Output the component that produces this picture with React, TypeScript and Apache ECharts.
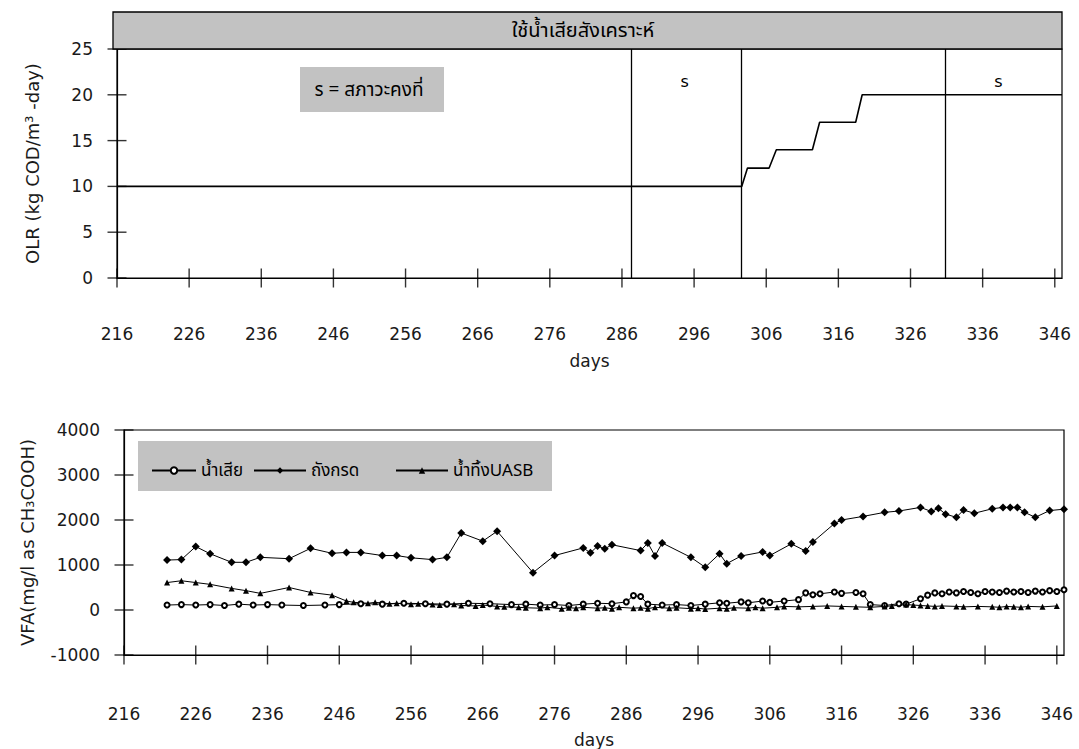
import React, { useEffect, useRef } from 'react';
import * as echarts from 'echarts';

// ---------- data ----------
const xTicks = [216, 226, 236, 246, 256, 266, 276, 286, 296, 306, 316, 326, 336, 346];
const olrTicks = [0, 5, 10, 15, 20, 25];
const vfaTicks = [-1000, 0, 1000, 2000, 3000, 4000];

// OLR (kg COD/m3-day) step profile
const olrDays = [216, 302.6, 303.4, 306.4, 307.4, 312.4, 313.4, 318.4, 319.3, 347];
const olrValues = [10, 10, 12, 12, 14, 14, 17, 17, 20, 20];
const phaseBoundaries = [287.3, 302.6, 330.8];
const steadyLabelDays = [294.7, 338.2];
const steadyLabelLevel = 21.4;

// VFA (mg/l as CH3COOH)
const acidDays = [222, 224, 226, 228, 231, 233, 235, 239, 242, 245, 247, 249, 252, 254, 256, 259, 261, 263, 266, 268,
  273, 276, 280, 281, 282, 283, 284, 288, 289, 290, 291, 295, 297, 299, 300, 302, 305, 306, 309, 311,
  312, 315, 316, 319, 322, 324, 327, 328.5, 329.5, 330.5, 332, 333, 334.5, 337, 338.5, 339.5, 340.5, 341.5, 343, 345, 347];
const acidValues = [1110, 1120, 1410, 1250, 1060, 1060, 1170, 1140, 1370, 1260, 1280, 1280, 1210, 1210, 1160, 1120, 1170, 1710, 1530, 1750,
  830, 1210, 1380, 1270, 1420, 1360, 1450, 1320, 1490, 1200, 1490, 1170, 950, 1250, 1030, 1200, 1290, 1210, 1470, 1310,
  1510, 1920, 2000, 2080, 2170, 2200, 2280, 2190, 2260, 2130, 2060, 2220, 2150, 2250, 2280, 2280, 2280, 2170, 2060, 2210, 2240];

const uasbDays = [222, 224, 226, 228, 231, 233, 235, 239, 242, 245, 247, 248, 250, 251, 253, 254, 256, 257, 259, 260,
  262, 263, 265, 266, 268, 269, 271, 272, 274, 275, 277, 278, 279, 280, 282, 283, 284, 285, 287, 288,
  289, 290, 292, 293, 295, 296, 297, 299, 300, 301, 303, 304, 305, 307, 308, 310, 312, 314, 316, 318,
  320, 322, 323, 325, 326, 327, 328, 329, 330, 332, 333, 335, 337, 338, 339, 340, 341, 342, 344, 346];
const uasbValues = [610, 650, 610, 570, 480, 430, 370, 500, 390, 330, 200, 170, 150, 170, 140, 150, 130, 140, 120, 110,
  130, 100, 90, 110, 80, 70, 60, 50, 40, 60, 30, 50, 40, 60, 40, 50, 30, 60, 40, 50,
  30, 60, 40, 50, 30, 40, 20, 40, 30, 50, 40, 60, 40, 60, 80, 70, 80, 90, 80, 70,
  60, 80, 90, 120, 110, 100, 90, 80, 90, 80, 70, 80, 70, 60, 80, 70, 60, 80, 70, 90];

const influentDays = [222, 224, 226, 228, 230, 232, 234, 236, 238, 241, 244, 246, 249, 252, 255, 258, 261, 264, 267, 270,
  272, 274, 276, 278, 280, 282, 284, 286, 287, 288, 289, 291, 293, 295, 297, 299, 300, 302, 303, 305,
  306, 308, 310, 311, 312, 313, 315, 316, 318, 319, 320, 322, 324, 325, 327, 328, 329, 330, 331, 332,
  333, 334, 335, 336, 337, 338, 339, 340, 341, 342, 343, 344, 345, 346, 347];
const influentValues = [110, 120, 110, 120, 100, 130, 110, 120, 110, 100, 110, 120, 140, 130, 150, 140, 130, 150, 140, 120,
  130, 110, 120, 100, 130, 150, 140, 180, 320, 300, 130, 110, 120, 100, 130, 160, 150, 180, 160, 200,
  170, 200, 230, 380, 340, 360, 400, 370, 390, 360, 120, 100, 140, 130, 250, 330, 380, 360, 400, 380,
  410, 390, 360, 410, 400, 390, 420, 400, 410, 390, 420, 400, 430, 410, 450];

const seriesNames = ['น้ำเสีย', 'ถังกรด', 'น้ำทิ้งUASB'];

// ---------- styles ----------
const NUM_FONT = '"DejaVu Sans", Verdana, sans-serif';
const THAI_FONT = '"Noto Sans Thai", Loma, Garuda, "Tlwg Typo", Kinnari, "DejaVu Sans", sans-serif';
const GRAY = '#c2c2c2';
const BLACK = '#000';
const TEXT = '#1a1a1a';
const X_MIN = 216;
const X_MAX = 347;

const zip = (xs: number[], ys: number[]) => xs.map((x, i) => [x, ys[i]]);

function xAxis(gridIndex: number, labelMargin: number, nameGap: number) {
  return {
    gridIndex, type: 'value', min: X_MIN, max: X_MAX, position: 'bottom',
    axisLine: { show: true, onZero: false, lineStyle: { color: BLACK, width: 1.2 } },
    axisTick: { show: false },
    axisLabel: { customValues: xTicks, margin: labelMargin, color: TEXT, fontSize: 17, fontFamily: NUM_FONT },
    splitLine: { show: false },
    name: 'days', nameLocation: 'middle', nameGap,
    nameTextStyle: { color: TEXT, fontSize: 17, fontFamily: NUM_FONT },
  };
}

function yAxis(gridIndex: number, ticks: number[], name: string, nameGap: number) {
  return {
    gridIndex, type: 'value', min: ticks[0], max: ticks[ticks.length - 1], position: 'left',
    axisLine: { show: true, onZero: false, lineStyle: { color: BLACK, width: 1.2 } },
    axisTick: { show: false },
    axisLabel: { customValues: ticks, formatter: (v: number) => String(v), margin: 24, color: TEXT, fontSize: 17, fontFamily: NUM_FONT },
    splitLine: { show: false },
    name, nameLocation: 'middle', nameGap, nameRotate: 90,
    nameTextStyle: { color: TEXT, fontSize: 18, fontFamily: NUM_FONT },
  };
}

// crossing tick marks drawn as thin rect symbols through the axis scales
function xTickSeries(axisIndex: number, yBase: number) {
  return {
    type: 'scatter', xAxisIndex: axisIndex, yAxisIndex: axisIndex, silent: true, clip: false, z: 5,
    symbol: 'rect', symbolSize: [1.4, 19], itemStyle: { color: BLACK },
    data: xTicks.map((t) => [t, yBase]),
  };
}
function yTickSeries(axisIndex: number, ticks: number[]) {
  return {
    type: 'scatter', xAxisIndex: axisIndex, yAxisIndex: axisIndex, silent: true, clip: false, z: 5,
    symbol: 'rect', symbolSize: [19, 1.4], itemStyle: { color: BLACK },
    data: ticks.map((t) => [X_MIN, t]),
  };
}

const legendBase = {
  show: true,
  selectedMode: false,
  top: 457,
  itemHeight: 8,
  z: 6,
  textStyle: { color: BLACK, fontSize: 17, fontFamily: THAI_FONT },
};

const option: any = {
  animation: false,
  backgroundColor: '#fff',
  grid: [
    { left: 117, top: 49, width: 945, height: 229, show: true, borderColor: BLACK, borderWidth: 1.2, backgroundColor: 'transparent' },
    { left: 124, top: 430, width: 940, height: 227, show: true, borderColor: BLACK, borderWidth: 1.2, backgroundColor: 'transparent' },
  ],
  xAxis: [xAxis(0, 47, 74), xAxis(1, 50, 76)],
  yAxis: [
    yAxis(0, olrTicks, 'OLR (kg COD/m³ -day)', 76),
    yAxis(1, vfaTicks, 'VFA(mg/l as CH₃COOH)', 88),
  ],
  legend: [
    { ...legendBase, left: 146, itemWidth: 44, data: [seriesNames[0]] },
    { ...legendBase, left: 248, itemWidth: 52, data: [seriesNames[1]] },
    { ...legendBase, left: 390, itemWidth: 52, data: [seriesNames[2]] },
  ],
  graphic: [
    { type: 'rect', z: 10, shape: { x: 113, y: 12, width: 949, height: 37 }, style: { fill: GRAY, stroke: BLACK, lineWidth: 1.3 } },
    { type: 'text', z: 11, x: 583, y: 31, style: { text: 'ใช้น้ำเสียสังเคราะห์', fill: BLACK, fontSize: 20, fontFamily: THAI_FONT, align: 'center', verticalAlign: 'middle' } },
    { type: 'rect', z: 3, shape: { x: 300, y: 67, width: 144, height: 45 }, style: { fill: GRAY } },
    { type: 'text', z: 4, x: 369, y: 90, style: { text: 's = สภาวะคงที่', fill: BLACK, fontSize: 19, fontFamily: THAI_FONT, align: 'center', verticalAlign: 'middle' } },
    { type: 'rect', z: 3, shape: { x: 138, y: 441, width: 414, height: 50 }, style: { fill: GRAY } },
  ],
  series: [
    {
      type: 'line', name: 'OLR', xAxisIndex: 0, yAxisIndex: 0,
      data: zip(olrDays, olrValues),
      showSymbol: false, symbol: 'none',
      lineStyle: { color: BLACK, width: 1.6 },
      markLine: {
        silent: true, symbol: ['none', 'none'], label: { show: false },
        lineStyle: { color: BLACK, width: 1.3, type: 'solid' },
        data: phaseBoundaries.map((d) => ({ xAxis: d })),
      },
      markPoint: {
        silent: true, symbol: 'circle', symbolSize: 1,
        itemStyle: { color: 'transparent' },
        label: { show: true, formatter: 's', color: BLACK, fontSize: 16, fontFamily: NUM_FONT, position: 'inside' },
        data: steadyLabelDays.map((d) => ({ coord: [d, steadyLabelLevel] })),
      },
    },
    xTickSeries(0, olrTicks[0]),
    yTickSeries(0, olrTicks),
    xTickSeries(1, vfaTicks[0]),
    yTickSeries(1, vfaTicks),
    {
      type: 'line', name: seriesNames[0], xAxisIndex: 1, yAxisIndex: 1,
      data: zip(influentDays, influentValues),
      symbol: 'emptyCircle', symbolSize: 5,
      itemStyle: { color: BLACK, borderColor: BLACK, borderWidth: 1 },
      lineStyle: { color: BLACK, width: 1 },
    },
    {
      type: 'line', name: seriesNames[1], xAxisIndex: 1, yAxisIndex: 1,
      data: zip(acidDays, acidValues),
      symbol: 'diamond', symbolSize: 8,
      itemStyle: { color: BLACK },
      lineStyle: { color: BLACK, width: 1 },
    },
    {
      type: 'line', name: seriesNames[2], xAxisIndex: 1, yAxisIndex: 1,
      data: zip(uasbDays, uasbValues),
      symbol: 'triangle', symbolSize: 6,
      itemStyle: { color: BLACK },
      lineStyle: { color: BLACK, width: 1 },
    },
  ],
};

export default function App() {
  const ref = useRef<HTMLDivElement>(null);
  useEffect(() => {
    if (!ref.current) return;
    const chart = echarts.init(ref.current, null, { renderer: 'svg' });
    chart.setOption(option);
    return () => chart.dispose();
  }, []);
  return (
    <div
      ref={ref}
      style={{ position: 'fixed', left: 0, top: 0, width: 1079, height: 749, background: '#fff' }}
    />
  );
}
